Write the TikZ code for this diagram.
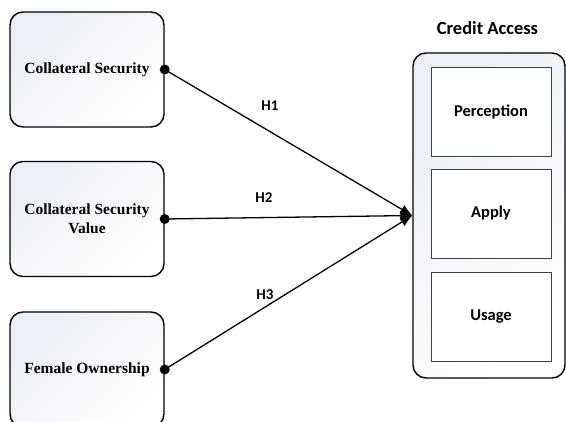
\documentclass[tikz,border=0pt]{standalone}
\usepackage{fontspec}
\setmainfont{Liberation Serif}
\newfontfamily\calibrifont{Carlito}
\usetikzlibrary{arrows.meta}
\definecolor{boxgray}{HTML}{EBEFF6}
\definecolor{innerborder}{HTML}{404040}
\tikzset{
  leftbox/.style={draw=black, line width=1.4pt, rounded corners=13pt,
    top color=boxgray, bottom color=white, shading angle=45,
    minimum width=154pt, minimum height=115pt, inner sep=0pt,
    font=\fontsize{15.5}{19}\selectfont\bfseries, align=center},
  bigbox/.style={draw=black, line width=1.4pt, rounded corners=13pt,
    top color=boxgray, bottom color=white, shading angle=45,
    minimum width=152pt, minimum height=325pt, inner sep=0pt},
  innerbox/.style={draw=innerborder, line width=0.8pt, fill=white,
    minimum width=120pt, minimum height=89pt, inner sep=0pt,
    font=\calibrifont\fontsize{16.5}{20}\selectfont\bfseries},
  hlabel/.style={font=\calibrifont\fontsize{15}{18}\selectfont\bfseries, inner sep=0pt},
  dotnode/.style={circle, fill=black, minimum size=10pt, inner sep=0pt},
  link/.style={line width=1.3pt, -{Latex[length=12pt,width=10pt]}, shorten >=0pt}
}
\begin{document}
\begin{tikzpicture}[x=1pt,y=-1pt]
\useasboundingbox (0,0) rectangle (566,422);
% left boxes
\node[leftbox] (b1) at (87,69.5) {Collateral Security};
\node[leftbox] (b2) at (87,219) {Collateral Security\\Value};
\node[leftbox] (b3) at (87,369.5) {Female Ownership};
% right container
\node[bigbox] (ca) at (489,215.5) {};
\node[font=\calibrifont\fontsize{18.5}{22}\selectfont\bfseries] (title) at (487.5,28.5) {Credit Access};
\node[innerbox] (p) at (491,111.5) {Perception};
\node[innerbox] (a) at (491,213.5) {Apply};
\node[innerbox] (u) at (491,316.5) {Usage};
% dots
\node[dotnode] (d1) at (b1.east) {};
\node[dotnode] (d2) at (b2.east) {};
\node[dotnode] (d3) at (b3.east) {};
% connectors
\draw[link] (d1.center) -- (ca.west);
\draw[link] (d2.center) -- (ca.west);
\draw[link] (d3.center) -- (ca.west);
% labels
\node[hlabel] (h1) at (270,106) {H1};
\node[hlabel] (h2) at (264,198) {H2};
\node[hlabel] (h3) at (265,295) {H3};
\end{tikzpicture}
\end{document}
